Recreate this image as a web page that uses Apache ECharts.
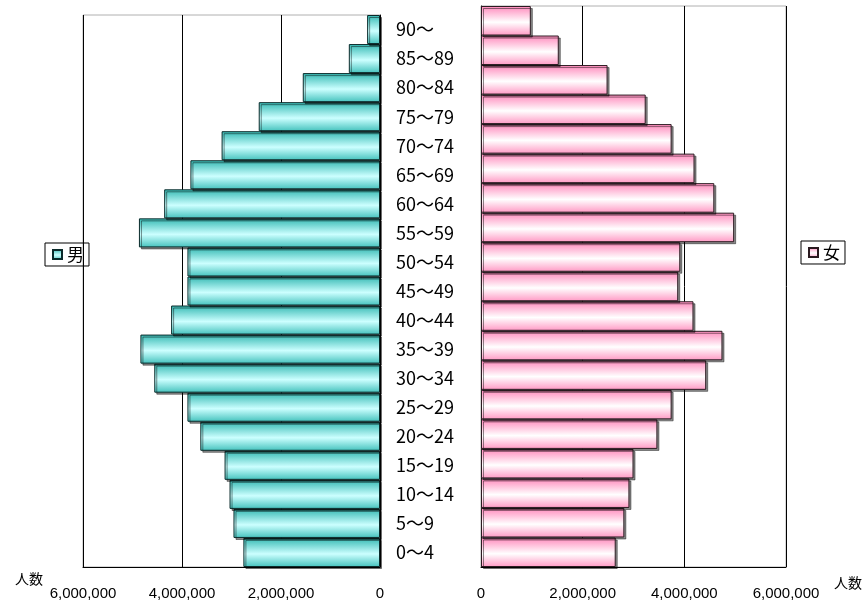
<!DOCTYPE html>
<html><head><meta charset="utf-8">
<script src="https://cdn.jsdelivr.net/npm/echarts@6/dist/echarts.min.js"></script>
<style>html,body{margin:0;padding:0;background:#fff}#c{width:865px;height:606px}</style>
</head><body><div id="c"></div>
<script>
const categories = ['0～4','5～9','10～14','15～19','20～24','25～29','30～34','35～39','40～44','45～49','50～54','55～59','60～64','65～69','70～74','75～79','80～84','85～89','90～'];
const maleValues = [2760000,2960000,3040000,3140000,3630000,3890000,4560000,4840000,4220000,3890000,3890000,4870000,4360000,3830000,3200000,2450000,1560000,630000,260000];
const femaleValues = [2650000,2820000,2920000,3000000,3470000,3750000,4430000,4750000,4180000,3880000,3920000,4980000,4590000,4200000,3750000,3240000,2490000,1530000,980000];
const axisTicks = [0, 2000000, 4000000, 6000000];
const axisName = '人数';

const fmt = v => v.toLocaleString('en-US');
const cyan = new echarts.graphic.LinearGradient(0,0,0,1,[{offset:0,color:'#33b8b2'},{offset:0.55,color:'#ccffff'},{offset:1,color:'#44c2bd'}]);
const pink = new echarts.graphic.LinearGradient(0,0,0,1,[{offset:0,color:'#ff88bb'},{offset:0.55,color:'#ffffff'},{offset:1,color:'#ff99c4'}]);
const labelFont = {fontFamily:'Liberation Sans, Arial, sans-serif', fontSize:15, color:'#000'};
const legendText = {fontFamily:'Noto Sans CJK JP', fontSize:17, color:'#000'};

const chart = echarts.init(document.getElementById('c'), null, {renderer:'canvas'});
chart.setOption({
  animation:false,
  grid:[
    {left:83, right:485, top:15, bottom:39, show:true, borderColor:'#b0b0b0', borderWidth:1},
    {left:481, right:78, top:6, bottom:39, show:true, borderColor:'#b0b0b0', borderWidth:1}
  ],
  legend:[
    {data:['男'], left:45, top:243, orient:'vertical', icon:'rect', itemWidth:9, itemHeight:9, itemGap:4, padding:[3,5,3,7],
     borderColor:'#000', borderWidth:1, textStyle:legendText},
    {data:['女'], left:801, top:241, orient:'vertical', icon:'rect', itemWidth:9, itemHeight:9, itemGap:4, padding:[3,5,3,7],
     borderColor:'#000', borderWidth:1, textStyle:legendText}
  ],
  xAxis:[
    {gridIndex:0, type:'value', inverse:true, min:axisTicks[0], max:axisTicks[3], interval:axisTicks[1],
     name:axisName, nameLocation:'end', nameGap:40, nameTextStyle:{fontFamily:'Noto Sans CJK JP', fontSize:14, color:'#000', align:'right', padding:[5,0,0,0], verticalAlign:'top'},
     axisLine:{show:true, lineStyle:{color:'#000'}}, axisTick:{show:true, inside:true, length:5, lineStyle:{color:'#000'}},
     splitLine:{show:true, lineStyle:{color:'#000', width:1}},
     axisLabel:Object.assign({margin:19, formatter:fmt}, labelFont)},
    {gridIndex:1, type:'value', min:axisTicks[0], max:axisTicks[3], interval:axisTicks[1],
     name:axisName, nameLocation:'end', nameGap:48, nameTextStyle:{fontFamily:'Noto Sans CJK JP', fontSize:14, color:'#000', align:'left', padding:[9,0,0,0], verticalAlign:'top'},
     axisLine:{show:true, lineStyle:{color:'#000'}}, axisTick:{show:true, inside:true, length:5, lineStyle:{color:'#000'}},
     splitLine:{show:true, lineStyle:{color:'#000', width:1}},
     axisLabel:Object.assign({margin:19, formatter:fmt}, labelFont)}
  ],
  yAxis:[
    {gridIndex:0, type:'category', data:categories, position:'right',
     axisLine:{show:true, lineStyle:{color:'#000'}}, axisTick:{show:false},
     axisLabel:{margin:16, align:'left', fontFamily:'Noto Sans CJK JP', fontSize:18, color:'#000'}},
    {gridIndex:1, type:'category', data:categories, position:'left',
     axisLine:{show:true, lineStyle:{color:'#000'}}, axisTick:{show:false}, axisLabel:{show:false}}
  ],
  series:[
    {name:'男', type:'bar', xAxisIndex:0, yAxisIndex:0, data:maleValues, barCategoryGap:'0%',
     itemStyle:{color:cyan, borderColor:'#0a2a2a', borderWidth:1, shadowColor:'rgba(0,0,0,0.45)', shadowOffsetX:2, shadowOffsetY:2, shadowBlur:0}},
    {name:'女', type:'bar', xAxisIndex:1, yAxisIndex:1, data:femaleValues, barCategoryGap:'0%',
     itemStyle:{color:pink, borderColor:'#2a1a20', borderWidth:1, shadowColor:'rgba(0,0,0,0.45)', shadowOffsetX:2, shadowOffsetY:2, shadowBlur:0}}
  ]
});
</script></body></html>
